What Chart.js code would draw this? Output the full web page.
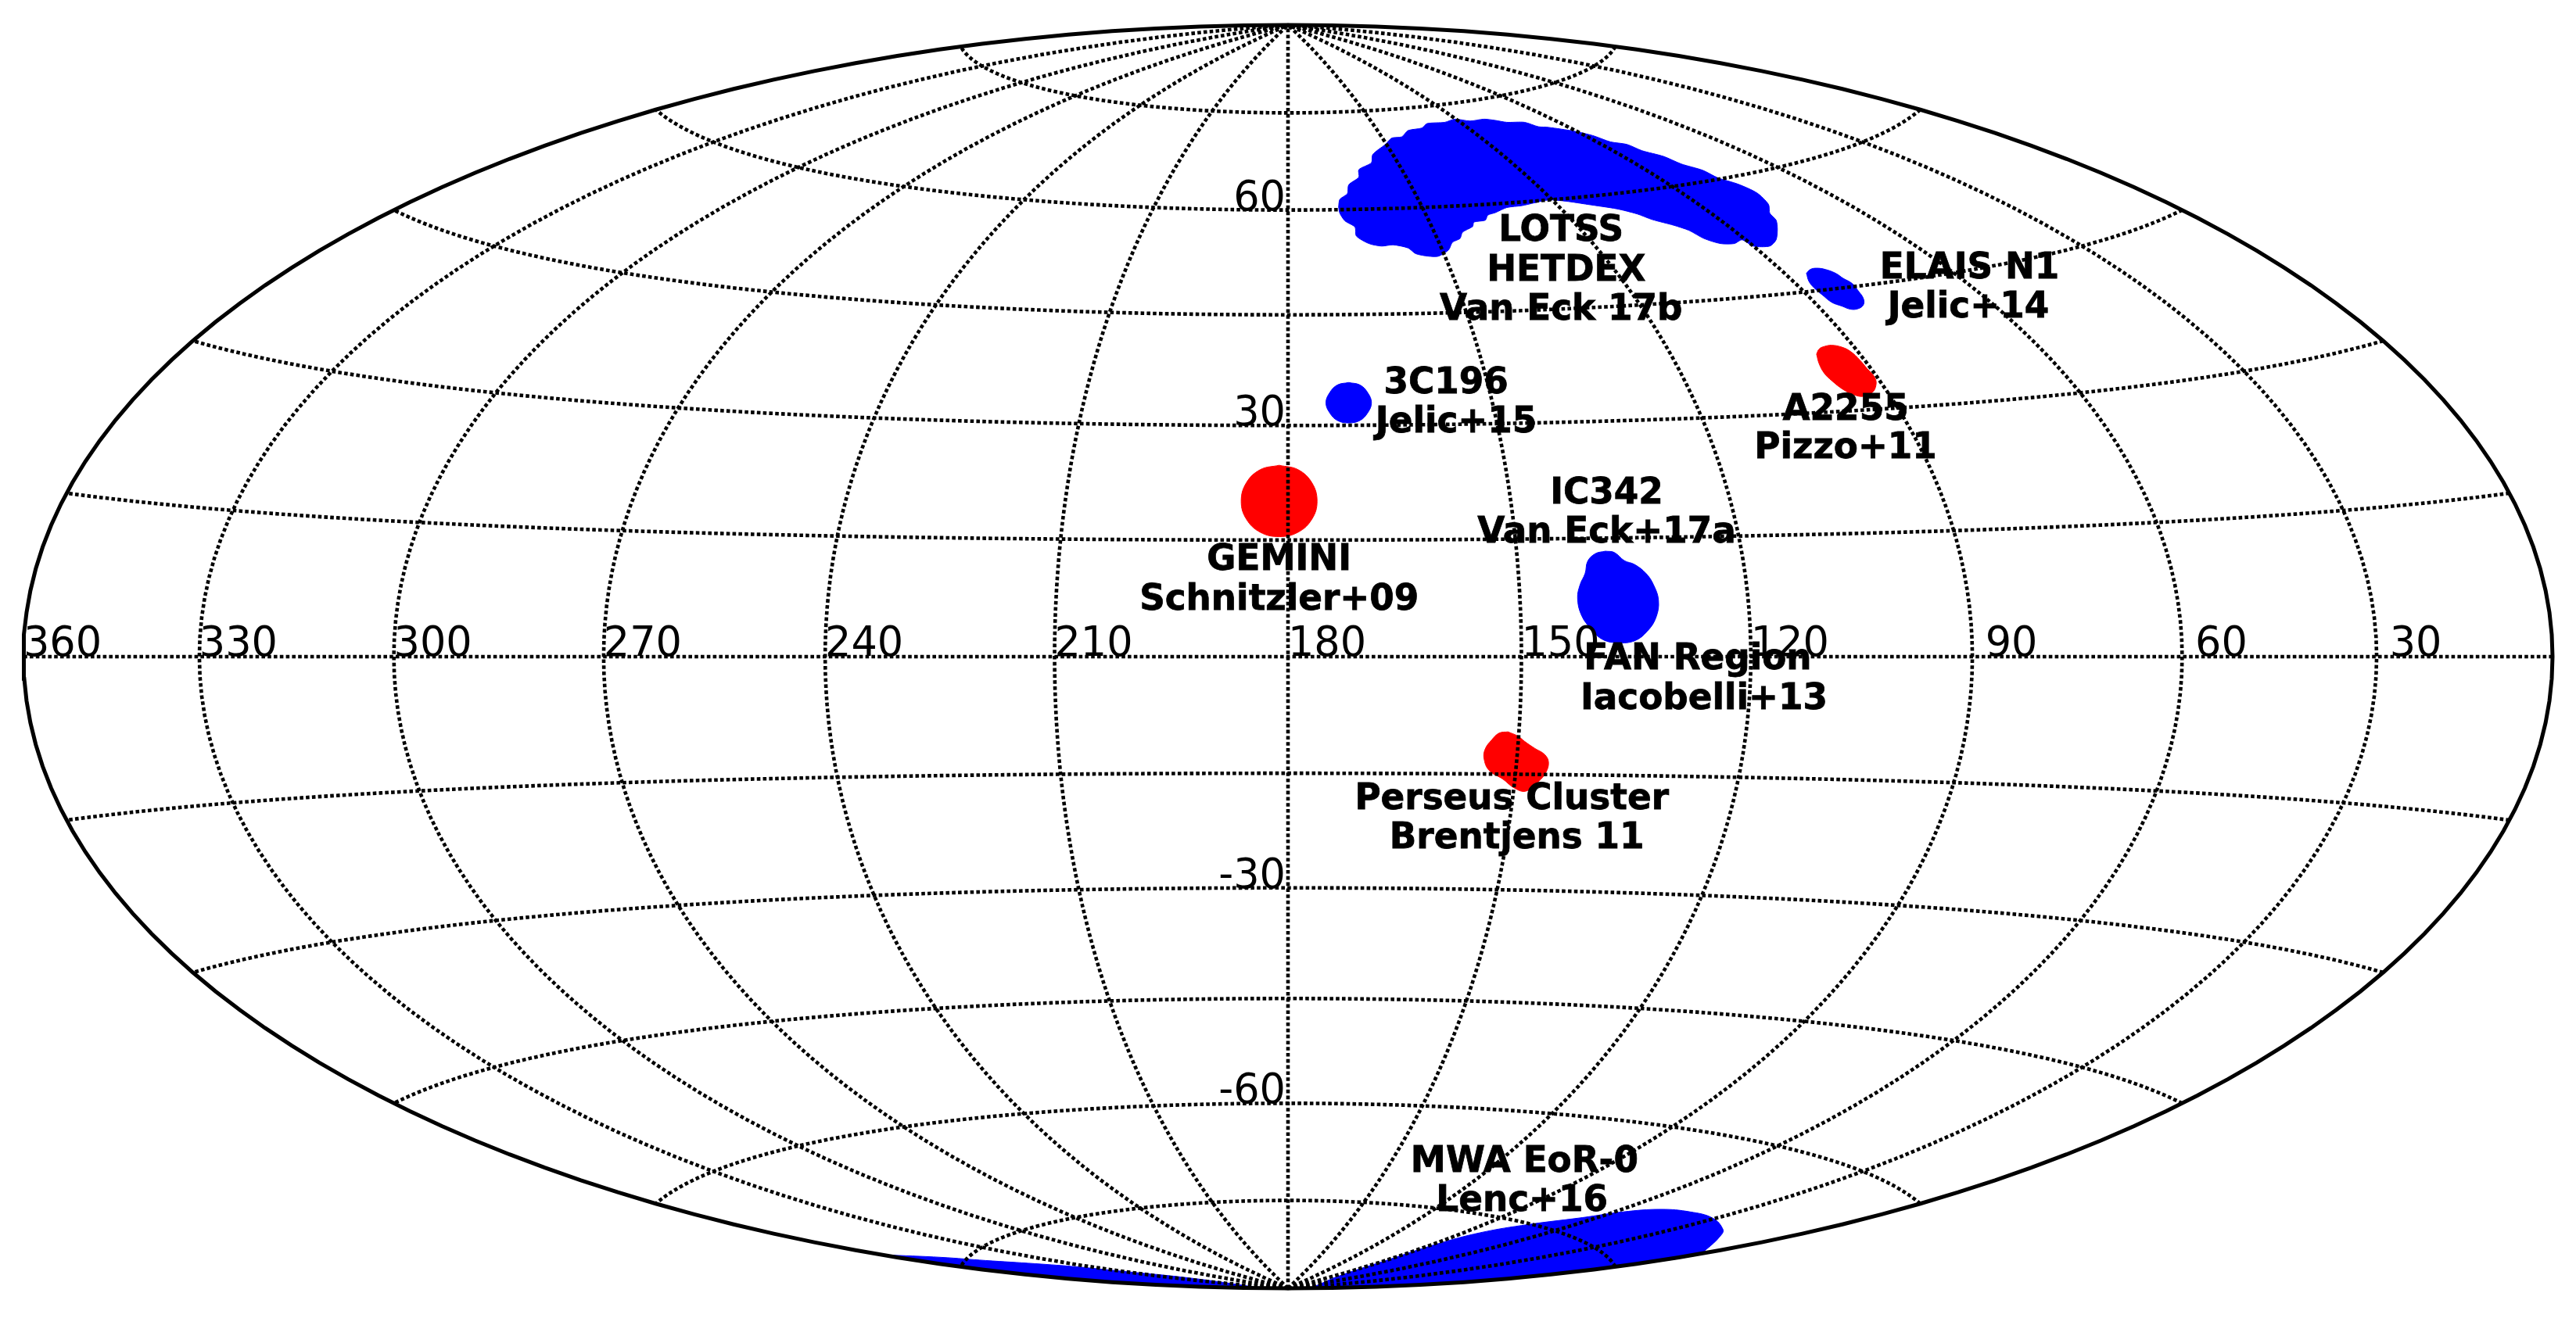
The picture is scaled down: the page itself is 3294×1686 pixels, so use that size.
<!DOCTYPE html>
<html>
<head>
<meta charset="utf-8">
<title>Sky map of observed fields</title>
<script src="https://cdn.jsdelivr.net/npm/chart.js@4"></script>
<style>
  html, body { margin: 0; padding: 0; background: #fff; }
  canvas { display: block; }
</style>
</head>
<body>
<canvas id="mapa" width="3294" height="1686"></canvas>
<script>
// graticule and tick labels (degrees)
const meridians = [30, 60, 90, 120, 150, 180, 210, 240, 270, 300, 330];
const parallels = [-75, -60, -45, -30, -15, 0, 15, 30, 45, 60, 75];
const lonTicks = [360, 330, 300, 270, 240, 210, 180, 150, 120, 90, 60, 30];
const latTicks = [60, 30, -30, -60];

// field outlines, in map coordinates (-1..1 on both axes)
const lotss = [[.040,.712],[.041,.724],[.047,.733],[.048,.747],[.056,.759],[.056,.771],[.066,.782],[.067,.795],[.077,.811],[.082,.821],[.090,.823],[.095,.833],[.106,.837],[.110,.844],[.124,.846],[.132,.851],[.144,.848],[.155,.851],[.164,.849],[.173,.846],[.187,.846],[.198,.839],[.206,.838],[.226,.832],[.241,.825],[.255,.815],[.268,.811],[.280,.801],[.297,.792],[.311,.780],[.328,.770],[.340,.758],[.356,.748],[.371,.734],[.380,.716],[.381,.702],[.386,.691],[.387,.677],[.386,.660],[.381,.650],[.368,.650],[.359,.660],[.353,.654],[.342,.654],[.329,.662],[.317,.675],[.305,.683],[.288,.692],[.276,.701],[.260,.709],[.237,.716],[.220,.721],[.206,.723],[.185,.714],[.173,.711],[.164,.703],[.158,.699],[.156,.691],[.147,.688],[.146,.681],[.138,.672],[.136,.662],[.130,.656],[.127,.644],[.119,.634],[.111,.634],[.101,.638],[.095,.647],[.083,.652],[.074,.650],[.064,.654],[.054,.666],[.053,.680],[.045,.690],[.041,.702],[.040,.712]];
const elais = [[.410,.607],[.413,.613],[.418,.615],[.425,.613],[.433,.607],[.439,.599],[.446,.591],[.451,.579],[.455,.567],[.455,.557],[.451,.551],[.445,.550],[.438,.555],[.430,.561],[.423,.572],[.416,.584],[.412,.594],[.410,.607]];
const c196 = [[.048,.434],[.057,.430],[.063,.418],[.066,.402],[.063,.386],[.057,.374],[.048,.370],[.039,.374],[.033,.386],[.030,.402],[.033,.418],[.039,.430],[.048,.434]];
const fan = [[.251,.167],[.258,.165],[.266,.152],[.274,.146],[.283,.132],[.289,.114],[.293,.089],[.291,.062],[.284,.040],[.274,.025],[.261,.022],[.249,.027],[.240,.043],[.232,.066],[.229,.093],[.231,.114],[.235,.132],[.237,.151],[.243,.163],[.251,.167]];
const mwaEast = [[.020,-.998],[.041,-.980],[.076,-.957],[.116,-.931],[.152,-.912],[.190,-.899],[.233,-.888],[.265,-.879],[.295,-.875],[.318,-.879],[.336,-.889],[.344,-.907],[.342,-.917],[.331,-.938],[.323,-.948],[.247,-.969],[.186,-.983],[.124,-.992],[.062,-.998],[.020,-.998]];
const mwaWest = [[-.320,-.947],[-.274,-.951],[-.239,-.956],[-.200,-.961],[-.167,-.966],[-.126,-.974],[-.085,-.982],[-.043,-.993],[-.027,-.999],[-.100,-.995],[-.200,-.980],[-.300,-.954],[-.320,-.947]];
const a2255 = [[.418,.479],[.420,.487],[.424,.491],[.430,.493],[.438,.490],[.445,.483],[.452,.470],[.458,.456],[.464,.442],[.465,.430],[.462,.418],[.455,.412],[.447,.415],[.439,.423],[.430,.437],[.424,.449],[.420,.464],[.418,.479]];
const gemini = [[-.007,.303],[.008,.296],[.019,.275],[.023,.246],[.019,.218],[.008,.197],[-.007,.190],[-.022,.197],[-.033,.218],[-.037,.246],[-.033,.275],[-.022,.296],[-.007,.303]];
const perseus = [[.174,-.119],[.182,-.126],[.187,-.134],[.195,-.145],[.203,-.155],[.206,-.167],[.204,-.183],[.198,-.198],[.188,-.213],[.179,-.208],[.170,-.194],[.159,-.180],[.155,-.161],[.156,-.146],[.161,-.132],[.167,-.121],[.174,-.119]];

// annotations: one entry per text line, centred on the given map coordinates
const labelTexts = ['LOTSS', 'HETDEX', 'Van Eck 17b', 'ELAIS N1', 'Jelic+14', '3C196', 'Jelic+15', 'A2255', 'Pizzo+11', 'IC342', 'Van Eck+17a', 'GEMINI', 'Schnitzler+09', 'FAN Region', 'Iacobelli+13', 'Perseus Cluster', 'Brentjens 11', 'MWA EoR-0', 'Lenc+16'];
const labelX = [.216, .220, .216, .539, .538, .125, .133, .441, .441, .252, .252, -.007, -.007, .324, .329, .177, .181, .187, .185];
const labelY = [.659, .595, .534, .599, .537, .417, .355, .375, .314, .243, .181, .137, .074, -.020, -.083, -.241, -.303, -.816, -.878];

// Hammer projection centred on longitude 180, longitude grows to the left
function hammer(lon, lat) {
    const l = (180 - lon) * Math.PI / 360;
    const p = lat * Math.PI / 180;
    const d = Math.sqrt(1 + Math.cos(p) * Math.cos(l));
    return { x: Math.cos(p) * Math.sin(l) / d, y: Math.sin(p) / d };
}

function meridianLine(lon) {
    const pts = [];
    for (let lat = -90; lat <= 90; lat += 2) pts.push(hammer(lon, lat));
    return pts;
}

function parallelLine(lat) {
    const pts = [];
    for (let lon = 0; lon <= 360; lon += 2) pts.push(hammer(lon, lat));
    return pts;
}

function gridDataset(pts) {
    return {
        data: pts, showLine: true, pointRadius: 0, borderColor: '#000', borderWidth: 4.6,
        borderDash: [4.6, 3.2], borderCapStyle: 'butt', fill: false, clip: false, order: 1
    };
}

function fieldDataset(outline, color, tension) {
    return {
        data: outline.map(p => ({ x: p[0], y: p[1] })),
        showLine: true, pointRadius: 0, borderColor: color, backgroundColor: color, borderWidth: 1,
        fill: 'shape', tension: tension, clip: false, order: 2
    };
}

const datasets = [];
datasets.push(fieldDataset(lotss, '#0000ff', 0.25));
[elais, c196, fan, mwaEast, mwaWest].forEach(o => datasets.push(fieldDataset(o, '#0000ff', 0.4)));
[a2255, gemini, perseus].forEach(o => datasets.push(fieldDataset(o, '#ff0000', 0.4)));
meridians.forEach(lon => datasets.push(gridDataset(meridianLine(lon))));
parallels.forEach(lat => datasets.push(gridDataset(parallelLine(lat))));

// map boundary
datasets.push({
    data: meridianLine(360).concat(meridianLine(0).reverse(), [hammer(360, -90)]),
    showLine: true, pointRadius: 0, borderColor: '#000', borderWidth: 5, fill: false, clip: false, order: 0
});

// tick labels and annotations go on top of everything
const textPlugin = {
    id: 'textos',
    afterDatasetsDraw(chart) {
        const ctx = chart.ctx;
        const xs = chart.scales.x;
        const ys = chart.scales.y;
        ctx.save();
        ctx.fillStyle = '#000';
        ctx.strokeStyle = '#000';
        ctx.textBaseline = 'alphabetic';

        ctx.font = "52.5px 'DejaVu Sans'";
        ctx.textAlign = 'center';
        lonTicks.forEach(lon => {
            const p = hammer(lon, 0);
            ctx.fillText(String(lon), xs.getPixelForValue(p.x) + 50, ys.getPixelForValue(p.y) - 1);
        });
        ctx.textAlign = 'right';
        latTicks.forEach(lat => {
            const p = hammer(180, lat);
            ctx.fillText(String(lat), xs.getPixelForValue(p.x) - 3, ys.getPixelForValue(p.y));
        });

        ctx.font = "bold 45.3px 'DejaVu Sans'";
        ctx.textAlign = 'center';
        ctx.lineWidth = 0.8;
        labelTexts.forEach((t, i) => {
            const x = xs.getPixelForValue(labelX[i]);
            const y = ys.getPixelForValue(labelY[i]);
            ctx.fillText(t, x, y);
            ctx.strokeText(t, x, y);
        });
        ctx.restore();
    }
};

new Chart(document.getElementById('mapa'), {
    type: 'scatter',
    data: { datasets: datasets },
    options: {
        responsive: false,
        devicePixelRatio: 1,
        animation: false,
        events: [],
        layout: { padding: { left: 30, right: 30, top: 32, bottom: 38 } },
        plugins: { legend: { display: false }, tooltip: { enabled: false } },
        scales: {
            x: { type: 'linear', min: -1, max: 1, display: false },
            y: { type: 'linear', min: -1, max: 1, display: false }
        }
    },
    plugins: [textPlugin]
});
</script>
</body>
</html>
